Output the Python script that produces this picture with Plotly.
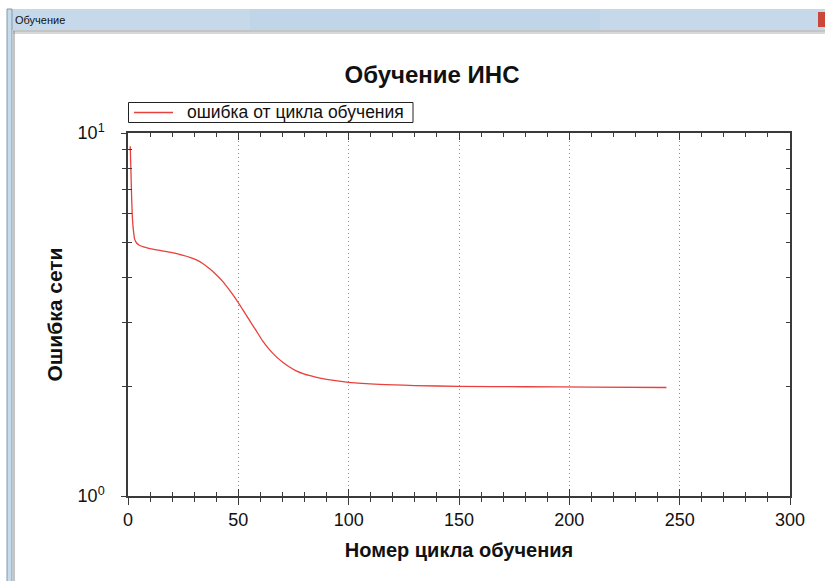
import plotly.graph_objects as go

# ---- data ----
cycles = [1, 1.3, 1.6, 1.9, 2.2, 2.6, 3, 4, 5.3, 7.5, 10, 15, 20, 25, 28, 31, 34, 37, 40,
          43, 46, 49, 52, 55, 58, 61, 64, 67, 70, 73, 76, 80, 85, 90, 100, 114, 130, 150,
          180, 210, 244]
error = [9.2, 8.0, 6.8, 6.0, 5.6, 5.3, 5.1, 4.97, 4.9, 4.85, 4.8, 4.74, 4.68, 4.60, 4.545,
         4.47, 4.365, 4.225, 4.07, 3.895, 3.69, 3.48, 3.26, 3.05, 2.86, 2.675, 2.535, 2.425,
         2.34, 2.27, 2.215, 2.165, 2.125, 2.095, 2.057, 2.03, 2.015, 2.005, 2.0, 1.995, 1.99]
x_ticks = [0, 50, 100, 150, 200, 250, 300]
y_ticks = [1, 10]
y_tick_text = ["10<sup>0</sup>", "10<sup>1</sup>"]
y_minor = [2, 3, 4, 5, 6, 7, 8, 9]
series_name = "ошибка от цикла обучения"
chart_title = "Обучение ИНС"
x_title = "Номер цикла обучения"
y_title = "Ошибка сети"
window_title = "Обучение"

W, H = 825, 581
L, R, T, B = 128, 35, 133, 85
PW, PH = W - L - R, H - T - B

def px(xp):
    return (xp - L) / PW

def py(yp):
    return (H - B - yp) / PH

AX = "#3a3a3a"
LINE_RED = "#e8403c"
FONT = "Liberation Sans, Arial, sans-serif"

fig = go.Figure()
fig.add_trace(go.Scatter(x=cycles, y=error, mode="lines", name=series_name,
                         line=dict(color=LINE_RED, width=1.3, shape="spline", smoothing=0.6)))
# invisible helper trace for the overlay axes (crossing / inside ticks)
fig.add_trace(go.Scatter(x=[cycles[0]], y=[error[0]], xaxis="x2", yaxis="y2", mode="lines",
                         showlegend=False, hoverinfo="skip", line=dict(width=0)))

common_x = dict(range=[0, 300], tickvals=x_ticks, linecolor=AX, linewidth=1.5,
                tickcolor=AX, tickwidth=1.3, zeroline=False)
fig.update_layout(
    width=W, height=H,
    margin=dict(l=L, r=R, t=T, b=B),
    paper_bgcolor="white", plot_bgcolor="white",
    font=dict(family=FONT, color="#111"),
    title=dict(text="<b>" + chart_title + "</b>", font=dict(size=24, color="#111"),
               xref="paper", x=px(432), xanchor="center",
               yref="container", y=1 - 75 / H, yanchor="middle"),
    xaxis=dict(**common_x, showline=True, mirror=True, ticks="outside", ticklen=7,
               showgrid=True, gridcolor="#8a8a8a", griddash="1px,3px", gridwidth=1,
               tickfont=dict(size=18, color="#111"),
               minor=dict(dtick=10, ticks="outside", ticklen=4, tickcolor=AX, showgrid=False),
               title=dict(text="<b>" + x_title + "</b>", font=dict(size=20, color="#111"),
                          standoff=14)),
    xaxis2=dict(**common_x, overlaying="x", anchor="y", showline=True, mirror="ticks",
                ticks="inside", ticklen=7, showticklabels=False, showgrid=False,
                minor=dict(dtick=10, ticks="inside", ticklen=4, tickcolor=AX, showgrid=False)),
    yaxis=dict(type="log", range=[0, 1], tickvals=y_ticks, ticktext=y_tick_text,
               linecolor=AX, linewidth=1.5, showline=True, mirror=True, ticks="outside",
               ticklen=5, tickcolor=AX, tickwidth=1.3, showgrid=False, zeroline=False,
               tickfont=dict(size=18, color="#111"), ticklabelstandoff=13,
               minor=dict(tickvals=y_minor, ticks="outside", ticklen=4, tickcolor=AX,
                          showgrid=False),
               title=dict(text="<b>" + y_title + "</b>", font=dict(size=21, color="#111"),
                          standoff=9)),
    yaxis2=dict(type="log", range=[0, 1], tickvals=y_ticks, overlaying="y", anchor="x",
                linecolor=AX, linewidth=1.5, showline=True, mirror="ticks", ticks="inside",
                ticklen=5, tickcolor=AX, tickwidth=1.3, showticklabels=False,
                showgrid=False, zeroline=False,
                minor=dict(tickvals=y_minor, ticks="inside", ticklen=4, tickcolor=AX,
                           showgrid=False)),
    showlegend=False,
)

# ---- window chrome (title bar and frame) + legend box ----
shapes = []
def rect(x0, y0, x1, y1, fill, line=None, lw=0, layer="below"):
    shapes.append(dict(type="rect", xref="paper", yref="paper", layer=layer,
                       x0=px(x0), x1=px(x1), y0=py(y1), y1=py(y0), fillcolor=fill,
                       line=dict(color=line or fill, width=lw)))

def hline(x0, x1, y, color, lw=1, layer="below"):
    shapes.append(dict(type="line", xref="paper", yref="paper", layer=layer,
                       x0=px(x0), x1=px(x1), y0=py(y), y1=py(y),
                       line=dict(color=color, width=lw)))

def vline(x, y0, y1, color, lw=1):
    shapes.append(dict(type="line", xref="paper", yref="paper", layer="below",
                       x0=px(x), x1=px(x), y0=py(y0), y1=py(y1),
                       line=dict(color=color, width=lw)))

rect(7, 9, 826, 30, "#c6d9ea")
rect(250, 9, 600, 30, "#c0d5e8")
rect(7, 9, 12, 582, "#c6dbec", "#8797a6", 1)
hline(13, 826, 31, "#8a8a8a", 1)
hline(13, 826, 33, "#b0b0b0", 1)
vline(14, 31, 582, "#8a8a8a", 1)
rect(818, 12, 826, 27, "#c9483a")

# legend (box, sample line, text)
rect(128.5, 102.5, 413, 122.5, "white", "#222", 1, layer="above")
hline(134, 173, 112.5, LINE_RED, 1.3, layer="above")
fig.update_layout(shapes=shapes)
fig.add_annotation(text=series_name, xref="paper", yref="paper", x=px(185), y=py(112.5),
                   xanchor="left", yanchor="middle", showarrow=False,
                   font=dict(size=17.5, color="#111", family=FONT))
fig.add_annotation(text=window_title, xref="paper", yref="paper", x=px(13), y=py(20),
                   xanchor="left", yanchor="middle", showarrow=False,
                   font=dict(size=11, color="#111", family=FONT))

fig.write_html("out.html", post_script="document.body.style.margin='0';",
               config={"displayModeBar": False})
